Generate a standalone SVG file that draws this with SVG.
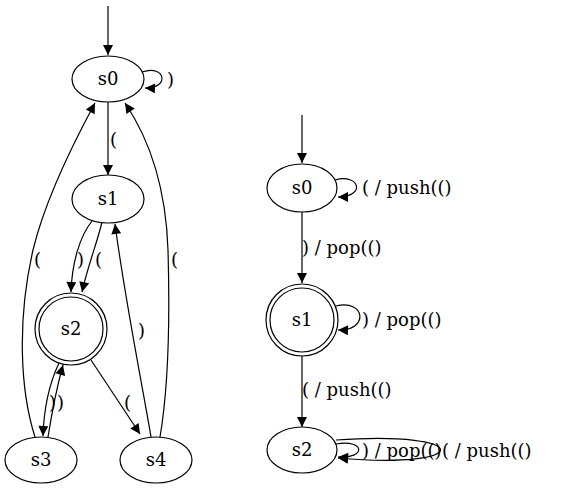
<svg xmlns="http://www.w3.org/2000/svg" width="564" height="488" viewBox="0 0 564 488">
<defs>
<marker id="ah" viewBox="0 0 10 10" refX="10" refY="5" markerWidth="13" markerHeight="10" markerUnits="userSpaceOnUse" orient="auto">
<path d="M0,0 L10,5 L0,10 z" fill="#000"/>
</marker>
<style>
.n{fill:none;stroke:#000;stroke-width:1.2}
.e{fill:none;stroke:#000;stroke-width:1.2;marker-end:url(#ah)}
text{font-family:"DejaVu Serif",serif;font-size:18px;fill:#000}
.c{text-anchor:middle}
</style>
</defs>
<rect width="564" height="488" fill="#fff"/>
<g id="L_s0"><ellipse class="n" cx="108" cy="79" rx="36" ry="23"/><text class="c" x="108" y="85">s0</text></g>
<g id="L_s1"><ellipse class="n" cx="108" cy="199" rx="36" ry="24"/><text class="c" x="108" y="205">s1</text></g>
<g id="L_s2"><circle class="n" cx="71" cy="329" r="36"/><circle class="n" cx="71" cy="329" r="32"/><text class="c" x="71" y="335">s2</text></g>
<g id="L_s3"><ellipse class="n" cx="41" cy="460" rx="36" ry="23"/><text class="c" x="41" y="466">s3</text></g>
<g id="L_s4"><ellipse class="n" cx="156" cy="460" rx="36" ry="23"/><text class="c" x="156" y="466">s4</text></g>
<g id="R_s0"><ellipse class="n" cx="302" cy="188" rx="35" ry="24"/><text class="c" x="302" y="194">s0</text></g>
<g id="R_s1"><circle class="n" cx="302" cy="320" r="36"/><circle class="n" cx="302" cy="320" r="32"/><text class="c" x="302" y="326">s1</text></g>
<g id="R_s2"><ellipse class="n" cx="302" cy="450" rx="35" ry="23"/><text class="c" x="302" y="456">s2</text></g>
<g id="connectors">
<path class="e" d="M108,6 L108,55"/>
<path class="e" d="M142,72 C166,64 170,89 145,88"/>
<text x="167" y="86">)</text>
<path class="e" d="M108,102 L108,175"/>
<text x="110" y="146">(</text>
<path class="e" d="M92,221 C80,236 72,262 71,292"/>
<text x="77" y="266">)</text>
<path class="e" d="M102,222 C98,240 88,265 82,292"/>
<text x="95" y="266">(</text>
<path class="e" d="M151,437 C145,400 125,300 115,224"/>
<text x="138" y="337">)</text>
<path class="e" d="M35,437 C20,390 17,320 33,250 C45,200 75,140 95,103"/>
<text x="34" y="266">(</text>
<path class="e" d="M160,437 C168,390 170,320 168,250 C166,190 150,140 125,103"/>
<text x="171" y="266">(</text>
<path class="e" d="M59,363 C50,382 44,406 43,436"/>
<path class="e" d="M48,437 C52,412 56,390 63,365"/>
<text x="49" y="409">)</text>
<text x="57" y="409">)</text>
<path class="e" d="M91,360 L140,434"/>
<text x="124" y="409">(</text>
<path class="e" d="M302,115 L302,163"/>
<path class="e" d="M335,180 C360,173 366,197 338,197"/>
<text x="362" y="194">( / push(()</text>
<path class="e" d="M302,212 L302,283"/>
<text x="302" y="254">) / pop(()</text>
<path class="e" d="M336,306 C366,299 369,331 338,330"/>
<text x="362" y="326">) / pop(()</text>
<path class="e" d="M302,356 L302,427"/>
<text x="302" y="396">( / push(()</text>
<path class="e" d="M336,444 C366,439 366,459 338,457"/>
<path class="e" d="M336,440 C475,430 475,470 338,458"/>
<text x="362" y="457">) / pop(()</text>
<text x="442" y="457">( / push(()</text>
</g>
</svg>
